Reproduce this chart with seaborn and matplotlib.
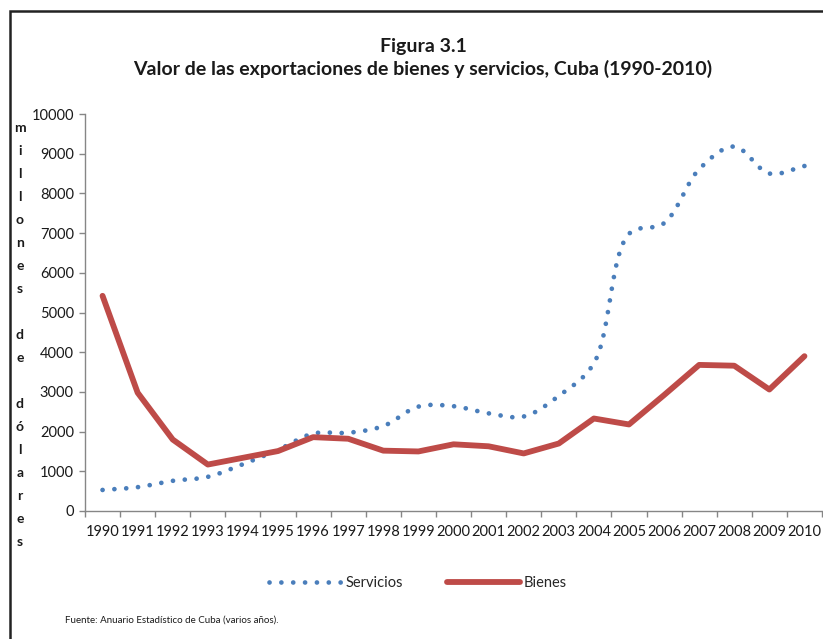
import numpy as np
import pandas as pd
import matplotlib
matplotlib.use("Agg")
import matplotlib.pyplot as plt
import seaborn as sns
from matplotlib.lines import Line2D
from matplotlib.patches import Rectangle

# Export values, millions of dollars
years = list(range(1990, 2011))
servicios = [530, 600, 760, 860, 1180, 1540, 1950, 1970, 2140, 2630, 2640,
             2460, 2380, 2900, 3720, 6980, 7250, 8610, 9180, 8500, 8690]
bienes = [5420, 2980, 1800, 1170, 1340, 1510, 1860, 1820, 1520, 1500, 1680,
          1630, 1450, 1700, 2330, 2180, 2920, 3680, 3660, 3060, 3900]

title = "Figura 3.1\nValor de las exportaciones de bienes y servicios, Cuba (1990-2010)"
ylabel = "millones de dólares"
source = "Fuente: Anuario Estadístico de Cuba (varios años)."

sns.set_style("white")
plt.rcParams["font.family"] = ["Lato", "DejaVu Sans"]

BLUE = "#4A7EBB"
RED = "#BE4B48"
AXIS_GRAY = "#868686"
DOTS = (0, (0.01, 2.5))


def smooth(values, xscale=35.1, yscale=0.0397, n=24):
    """Centripetal Catmull-Rom spline through the points, built in
    display-proportional units so steep and flat runs blend evenly."""
    P = np.column_stack([np.arange(len(values)) * xscale,
                         np.asarray(values, dtype=float) * yscale])
    P = np.vstack([2 * P[0] - P[1], P, 2 * P[-1] - P[-2]])
    out = []
    for i in range(len(P) - 3):
        p0, p1, p2, p3 = P[i], P[i + 1], P[i + 2], P[i + 3]
        t0 = 0.0
        t1 = t0 + np.linalg.norm(p1 - p0) ** 0.5
        t2 = t1 + np.linalg.norm(p2 - p1) ** 0.5
        t3 = t2 + np.linalg.norm(p3 - p2) ** 0.5
        t = np.linspace(t1, t2, n, endpoint=False)[:, None]
        a1 = (t1 - t) / (t1 - t0) * p0 + (t - t0) / (t1 - t0) * p1
        a2 = (t2 - t) / (t2 - t1) * p1 + (t - t1) / (t2 - t1) * p2
        a3 = (t3 - t) / (t3 - t2) * p2 + (t - t2) / (t3 - t2) * p3
        b1 = (t2 - t) / (t2 - t0) * a1 + (t - t0) / (t2 - t0) * a2
        b2 = (t3 - t) / (t3 - t1) * a2 + (t - t1) / (t3 - t1) * a3
        c = (t2 - t) / (t2 - t1) * b1 + (t - t1) / (t2 - t1) * b2
        out.append(c)
    out.append(P[-2][None, :])
    out = np.vstack(out)
    return out[:, 0] / xscale, out[:, 1] / yscale


fig = plt.figure(figsize=(8.23, 6.39), dpi=100)
ax = fig.add_axes([85 / 823, 1 - 511 / 639, (822 - 85) / 823, (511 - 114) / 639])

sx, sy = smooth(servicios)
df_s = pd.DataFrame({"x": sx, "valor": sy})
df_b = pd.DataFrame({"x": np.arange(len(years)), "valor": bienes})

sns.lineplot(data=df_s, x="x", y="valor", ax=ax, color=BLUE, linewidth=3.4,
             linestyle=DOTS, sort=False, estimator=None)
ax.lines[-1].set_dash_capstyle("round")
sns.lineplot(data=df_b, x="x", y="valor", ax=ax, color=RED, linewidth=4.2,
             sort=False, estimator=None)
ax.lines[-1].set_solid_capstyle("round")
ax.lines[-1].set_solid_joinstyle("round")

ax.set_xlim(-0.5, len(years) - 0.5)
ax.set_ylim(0, 10000)
ax.set_yticks(np.arange(0, 10001, 1000))
ax.set_xticks(np.arange(len(years)))
ax.set_xticklabels([str(y) for y in years])
ax.set_xticks(np.arange(-0.5, len(years), 1), minor=True)
ax.tick_params(axis="x", which="major", length=0, pad=10, labelsize=10.5, colors="#1a1a1a")
ax.tick_params(axis="x", which="minor", length=4, width=1, color=AXIS_GRAY, direction="out", bottom=True)
ax.tick_params(axis="y", length=4, width=1, color=AXIS_GRAY, direction="out", left=True,
               labelsize=10.5, labelcolor="#1a1a1a", pad=4)
ax.set_xlabel("")
ax.set_ylabel("")
for side in ["top", "right"]:
    ax.spines[side].set_visible(False)
for side in ["left", "bottom"]:
    ax.spines[side].set_color(AXIS_GRAY)
    ax.spines[side].set_linewidth(1)
ax.grid(False)

# Title
fig.text(0.514, 1 - 58 / 639, title, ha="center", va="center", fontsize=14,
         fontweight="bold", linespacing=1.3, color="#1a1a1a")

# Vertical stacked-letter axis label
y0, step = 128, 23
letters = []
for word in ylabel.split(" "):
    letters.extend(list(word))
    letters.append("")
letters = letters[:-1]
for i, ch in enumerate(letters):
    if ch:
        fig.text(20 / 823, 1 - (y0 + i * step) / 639, ch, ha="center", va="center",
                 fontsize=10, fontweight="bold", color="#1a1a1a")

# Legend
handles = [
    Line2D([], [], color=BLUE, linewidth=3.4, linestyle=DOTS, dash_capstyle="round"),
    Line2D([], [], color=RED, linewidth=4.2, solid_capstyle="round"),
]
fig.legend(handles, ["Servicios", "Bienes"], loc="center", bbox_to_anchor=(0.508, 1 - 583 / 639),
           ncol=2, frameon=False, fontsize=10.5, handlelength=5.0, columnspacing=3.0,
           handletextpad=0.25)

fig.text(65 / 823, 1 - 620 / 639, source, ha="left", va="center", fontsize=7, color="#1a1a1a")

# Frame
fig.patches.append(Rectangle((10 / 823, -0.5), 2, 1 - 11 / 639 + 0.5, transform=fig.transFigure,
                             fill=False, edgecolor="#222222", linewidth=1.8))

fig.savefig("out.png", dpi=100)
